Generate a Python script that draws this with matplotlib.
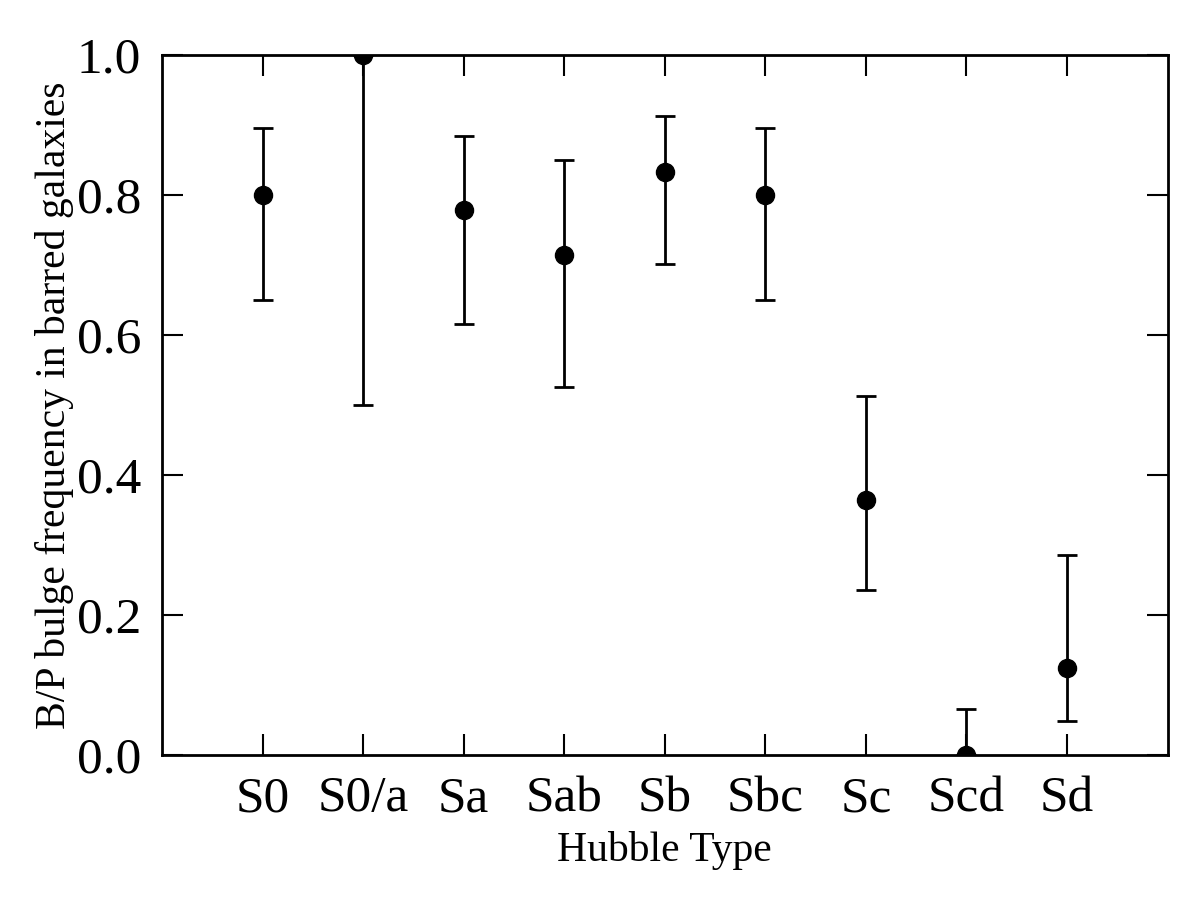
import numpy as np
import matplotlib
matplotlib.use("Agg")
import matplotlib.pyplot as plt

# Hubble types and B/P bulge fraction among barred galaxies
hubble_types = ["S0", "S0/a", "Sa", "Sab", "Sb", "Sbc", "Sc", "Scd", "Sd"]
frac = [0.800, 1.000, 0.778, 0.714, 0.833, 0.800, 0.364, 0.000, 0.125]
err_upper = [0.896, 1.000, 0.884, 0.850, 0.913, 0.896, 0.513, 0.066, 0.286]
err_lower = [0.650, 0.500, 0.616, 0.526, 0.701, 0.650, 0.236, 0.000, 0.049]

plt.rcParams['font.family'] = ['Liberation Serif', 'DejaVu Serif']

fig = plt.figure(figsize=(12, 9), dpi=100)
ax = fig.add_axes([0.135, 0.161, 0.838, 0.778])

x = np.arange(len(hubble_types))
y = np.array(frac)
yerr = [y - np.array(err_lower), np.array(err_upper) - y]

ax.errorbar(x, y, yerr=yerr, fmt='o', color='black', ms=13,
            elinewidth=2, capsize=7, capthick=2)

ax.set_xlim(-1, 9)
ax.set_ylim(0, 1)
ax.set_xticks(x)
ax.set_xticklabels(hubble_types)
ax.set_yticks([0.0, 0.2, 0.4, 0.6, 0.8, 1.0])
ax.set_yticklabels(["0.0", "0.2", "0.4", "0.6", "0.8", "1.0"])

ax.tick_params(direction='in', top=True, right=True, length=15, width=1.5,
               labelsize=37, pad=15)
for s in ax.spines.values():
    s.set_linewidth(2)

ax.set_xlabel("Hubble Type", fontsize=30, labelpad=6)
ax.set_ylabel("B/P bulge frequency in barred galaxies", fontsize=30, labelpad=2)

fig.savefig("out.png", dpi=100)
